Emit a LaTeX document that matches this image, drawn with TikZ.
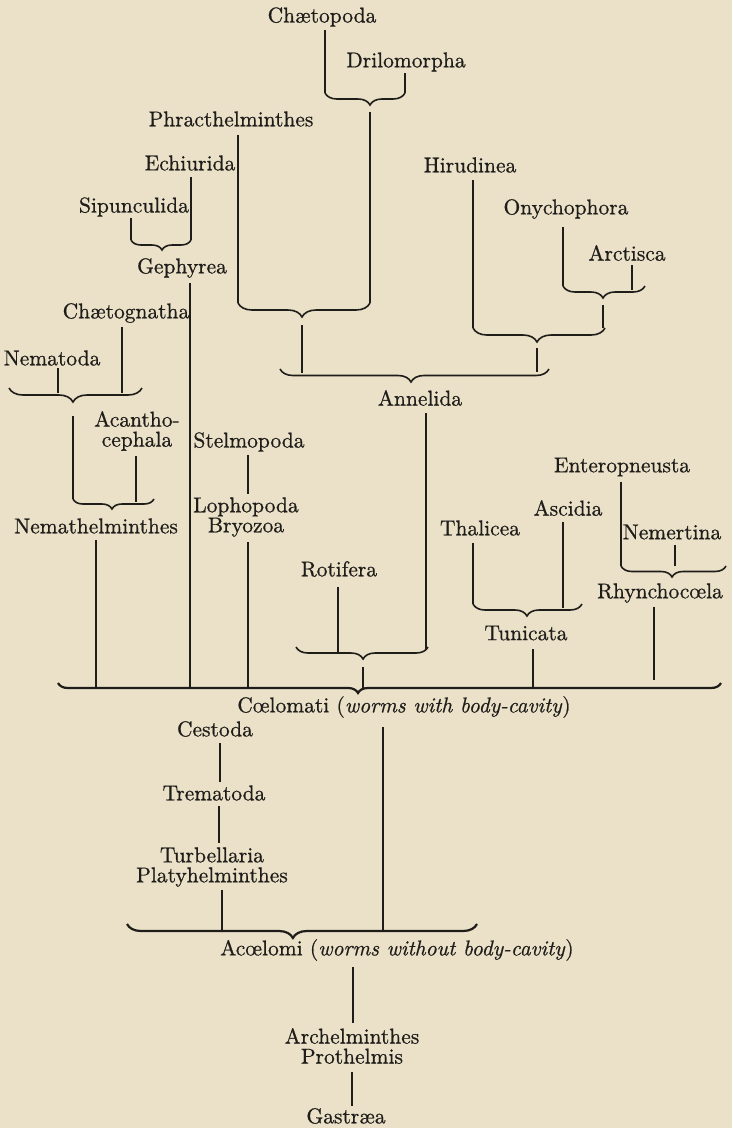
\documentclass[tikz,border=0pt]{standalone}
\usepackage{fontspec}
\setmainfont{lmroman10-regular.otf}[ItalicFont=lmroman10-italic.otf, FakeBold=0.7]
\usetikzlibrary{decorations.pathreplacing}
\definecolor{bg}{HTML}{EAE1C8}
\definecolor{ink}{HTML}{1F1D1A}
\newcommand\lblfont{\fontsize{21.5}{20}\selectfont}
\tikzset{
  lbl/.style={font=\lblfont, text=ink, inner sep=0pt, align=center},
  ln/.style={draw=ink, line width=1.1pt},
  brc/.style args={#1/#2}{draw=ink, line width=1.6pt, decorate,
     decoration={brace, mirror, amplitude=#1pt, aspect=#2}},
  brcb/.style args={#1/#2}{brc=#1/#2, line width=2.2pt},
}
\begin{document}
\begin{tikzpicture}[x=1pt,y=-1pt]
\fill[bg] (0,0) rectangle (732,1128);
\useasboundingbox (0,0) rectangle (732,1128);

% ---------- labels ----------
\node[lbl] (chaet)   at (322,17)  {Chætopoda};
\node[lbl] (drilo)   at (406,62)  {Drilomorpha};
\node[lbl] (phrac)   at (231,119) {Phracthelminthes};
\node[lbl] (echiu)   at (190,163) {Echiurida};
\node[lbl] (sipun)   at (134,207) {Sipunculida};
\node[lbl] (gephy)   at (182,268) {Gephyrea};
\node[lbl] (hirud)   at (470,165) {Hirudinea};
\node[lbl] (onych)   at (566,209) {Onychophora};
\node[lbl] (arcti)   at (627,253) {Arctisca};
\node[lbl] (chaetog) at (126,313) {Chætognatha};
\node[lbl] (nemat)   at (52,358)  {Nematoda};
\node[lbl] (annel)   at (420,398) {Annelida};
\node[lbl] (acanth)  at (137,431) {Acantho-\\cephala};
\node[lbl] (stelm)   at (249,442) {Stelmopoda};
\node[lbl] (lopho)   at (246,517) {Lophopoda\\Bryozoa};
\node[lbl] (nemath)  at (96,526)  {Nemathelminthes};
\node[lbl] (rotif)   at (339,569) {Rotifera};
\node[lbl] (thali)   at (480,528) {Thalicea};
\node[lbl] (ascid)   at (568,508) {Ascidia};
\node[lbl] (entero)  at (622,467) {Enteropneusta};
\node[lbl] (nemer)   at (672,532) {Nemertina};
\node[lbl] (rhync)   at (660,593) {Rhynchocœla};
\node[lbl] (tunic)   at (526,633) {Tunicata};
\node[lbl] (coelo)   at (404,707) {Cœlomati (\textit{worms with body-cavity})};
\node[lbl] (cesto)   at (215,729) {Cestoda};
\node[lbl] (trema)   at (214,793) {Trematoda};
\node[lbl] (turb)    at (212,867) {Turbellaria\\Platyhelminthes};
\node[lbl] (acoel)   at (397,950) {Acœlomi (\textit{worms without body-cavity})};
\node[lbl] (arche)   at (352,1046) {Archelminthes\\Prothelmis};
\node[lbl] (gastr)   at (346,1116) {Gastræa};

% ---------- Annelida group ----------
\coordinate (b1L) at (325,93);  \coordinate (b1R) at (405,93);  \coordinate (b1T) at (370,105);
\coordinate (b2L) at (238,303); \coordinate (b2R) at (370,303); \coordinate (b2T) at (302,317);
\coordinate (b4L) at (563,286); \coordinate (b4R) at (645,286); \coordinate (b4T) at (603,298);
\coordinate (b4in) at (632,290);
\coordinate (b5L) at (473,328); \coordinate (b5R) at (605,328); \coordinate (b5T) at (537,342);
\coordinate (aL) at (280,369);  \coordinate (aR) at (549,369);  \coordinate (aT) at (411,382);
\coordinate (aIn1) at (302,373); \coordinate (aIn2) at (537,372);

\draw[brc=12/0.5625] (b1L) -- (b1R);
\draw[brc=14/0.485] (b2L) -- (b2R);
\draw[brc=12/0.488] (b4L) -- (b4R);
\draw[brc=14/0.485] (b5L) -- (b5R);
\draw[brc=13/0.487] (aL) -- (aR);

\draw[ln] (chaet.center -| b1L) ++(0,13) -- (b1L);
\draw[ln] (drilo.center -| b1R) ++(0,11) -- (b1R);
\draw[ln] (b1T) ++(0,7) -- (b2R);
\draw[ln] (phrac.center -| b2L) ++(0,16) -- (b2L);
\draw[ln] (b2T) ++(0,8) -- (aIn1);
\draw[ln] (hirud.center -| b5L) ++(0,15) -- (b5L);
\draw[ln] (onych.center -| b4L) ++(0,18) -- (b4L);
\draw[ln] (arcti.center -| b4in) ++(0,12) -- (b4in);
\draw[ln] (b4T) ++(0,7) -- (b4T |- b5R);
\draw[ln] (b5T) ++(0,6) -- (aIn2);

% ---------- Gephyrea ----------
\coordinate (b3L) at (131,240); \coordinate (b3R) at (191,240); \coordinate (b3T) at (162,250);
\draw[brc=10/0.517] (b3L) -- (b3R);
\draw[ln] (echiu.center -| b3R) ++(0,14) -- (b3R);
\draw[ln] (sipun.center -| b3L) ++(0,11) -- (b3L);
\coordinate (cIn2) at (190,688);
\draw[ln] (gephy.center -| cIn2) ++(0,15) -- (cIn2);

% ---------- Nemathelminthes ----------
\coordinate (nL) at (9,388); \coordinate (nR) at (142,388); \coordinate (nT) at (73,402);
\draw[brc=14/0.481] (nL) -- (nR);
\coordinate (nIn1) at (58,393); \coordinate (nIn2) at (122,393);
\draw[ln] (nemat.center -| nIn1) ++(0,10) -- (nIn1);
\draw[ln] (chaetog.center -| nIn2) ++(0,14) -- (nIn2);
\coordinate (mL) at (73,499); \coordinate (mR) at (154,499); \coordinate (mT) at (112,509);
\draw[brc=10/0.481] (mL) -- (mR);
\draw[ln] (nT) ++(0,14) -- (mL);
\coordinate (mIn) at (136,502);
\draw[ln] (acanth.center -| mIn) ++(0,25) -- (mIn);
\coordinate (cIn1) at (96,688);
\draw[ln] (nemath.center -| cIn1) ++(0,14) -- (cIn1);

% ---------- Bryozoa ----------
\coordinate (sB) at (248,494);
\draw[ln] (stelm.center -| sB) ++(0,13) -- (sB);
\coordinate (cIn3) at (248,688);
\draw[ln] (lopho.center -| cIn3) ++(0,25) -- (cIn3);

% ---------- Rotifera ----------
\coordinate (rL) at (296,647); \coordinate (rR) at (428,647); \coordinate (rT) at (363,659);
\draw[brc=12/0.508] (rL) -- (rR);
\coordinate (rIn1) at (338,652); \coordinate (rIn2) at (426,649);
\draw[ln] (rotif.center -| rIn1) ++(0,18) -- (rIn1);
\draw[ln] (annel.center -| rIn2) ++(0,15) -- (rIn2);
\coordinate (cIn4) at (363,688);
\draw[ln] (rT) ++(0,8) -- (cIn4);

% ---------- Tunicata ----------
\coordinate (tL) at (473,604); \coordinate (tR) at (582,604); \coordinate (tT) at (527,616);
\draw[brc=12/0.495] (tL) -- (tR);
\coordinate (tIn) at (563,608);
\draw[ln] (thali.center -| tL) ++(0,15) -- (tL);
\draw[ln] (ascid.center -| tIn) ++(0,14) -- (tIn);
\coordinate (cIn5) at (533,688);
\draw[ln] (tunic.center -| cIn5) ++(0,16) -- (cIn5);

% ---------- Rhynchocoela ----------
\coordinate (hL) at (621,566); \coordinate (hR) at (726,566); \coordinate (hT) at (672,577);
\draw[brc=11/0.486] (hL) -- (hR);
\coordinate (hIn) at (675,566);
\draw[ln] (entero.center -| hL) ++(0,15) -- (hL);
\draw[ln] (nemer.center -| hIn) ++(0,13) -- (hIn);
\coordinate (cIn6) at (654,680);
\draw[ln] (rhync.center -| cIn6) ++(0,14) -- (cIn6);

% ---------- Coelomati ----------
\coordinate (cL) at (58,683); \coordinate (cR) at (721,683); \coordinate (cT) at (358,693);
\draw[brcb=10/0.4525] (cL) -- (cR);
\coordinate (pIn2) at (383,931);
\draw[ln] (coelo.center -| pIn2) ++(0,20) -- (pIn2);

% ---------- Acoelomi ----------
\coordinate (pL) at (127,924); \coordinate (pR) at (477,924); \coordinate (pT) at (293,938);
\draw[brcb=14/0.474] (pL) -- (pR);
\coordinate (k1) at (220,782); \coordinate (k2) at (219,843); \coordinate (pIn1) at (222,931);
\draw[ln] (cesto.center -| k1) ++(0,14) -- (k1);
\draw[ln] (trema.center -| k2) ++(0,13) -- (k2);
\draw[ln] (turb.center -| pIn1) ++(0,23) -- (pIn1);
\coordinate (g1) at (353,1023); \coordinate (g2) at (352,1106);
\draw[ln] (acoel.center -| g1) ++(0,17) -- (g1);
\draw[ln] (arche.center -| g2) ++(0,26) -- (g2);
\end{tikzpicture}
\end{document}
